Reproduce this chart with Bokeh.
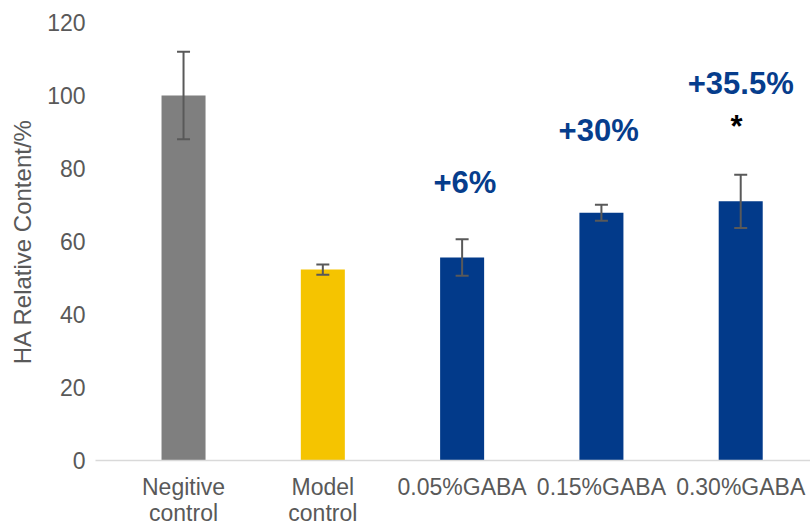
from bokeh.plotting import figure
from bokeh.models import ColumnDataSource, Whisker, FixedTicker, Range1d
from bokeh.core.properties import value
from bokeh.embed import file_html
from bokeh.resources import INLINE

# ---- data ----
categories = ["Negitive\ncontrol", "Model\ncontrol", "0.05%GABA", "0.15%GABA", "0.30%GABA"]
values = [100.0, 52.3, 55.6, 67.9, 71.0]
errors = [12.0, 1.4, 5.0, 2.2, 7.3]
bar_colors = ["#7F7F7F", "#F5C400", "#023A8A", "#023A8A", "#023A8A"]
y_ticks = [0, 20, 40, 60, 80, 100, 120]

ann_labels = ["+6%", "+30%", "+35.5%"]
ann_x = [2.02, 2.98, 4.0]
ann_y = [76.2, 90.5, 103.4]
star_x = [3.97]
star_y = [91.4]

FONT = "Liberation Sans"
TXT = "#595959"

xs = list(range(len(categories)))
src = ColumnDataSource(dict(
    x=xs, top=values, color=bar_colors,
    upper=[v + e for v, e in zip(values, errors)],
    lower=[v - e for v, e in zip(values, errors)],
))

p = figure(width=810, height=528, output_backend="svg", toolbar_location=None,
           x_range=Range1d(-0.632, 4.501), y_range=Range1d(0, 120),
           min_border_left=95, min_border_right=0, min_border_top=22, min_border_bottom=68)
p.outline_line_color = None
p.background_fill_color = "white"
p.border_fill_color = "white"
p.xgrid.grid_line_color = None
p.ygrid.grid_line_color = None

p.vbar(x="x", top="top", bottom=0, width=0.316, color="color", line_color=None, source=src)

w = Whisker(base="x", upper="upper", lower="lower", source=src,
            line_color="#595959", line_width=2, level="overlay")
w.upper_head.size = 13
w.lower_head.size = 13
w.upper_head.line_color = "#595959"
w.lower_head.line_color = "#595959"
w.upper_head.line_width = 2
w.lower_head.line_width = 2
p.add_layout(w)

ann_src = ColumnDataSource(dict(x=ann_x, y=ann_y, t=ann_labels))
p.text(x="x", y="y", text="t", source=ann_src, text_font=value(FONT),
       text_font_style="bold", text_font_size="31px", text_color="#063D8C",
       text_align="center", text_baseline="alphabetic")
star_src = ColumnDataSource(dict(x=star_x, y=star_y, t=["*"]))
p.text(x="x", y="y", text="t", source=star_src, text_font=value(FONT),
       text_font_style="bold", text_font_size="31px", text_color="black",
       text_align="center", text_baseline="alphabetic")

# x axis
p.xaxis.ticker = FixedTicker(ticks=xs)
p.xaxis.major_label_overrides = {i: c for i, c in enumerate(categories)}
p.xaxis.major_label_text_font = FONT
p.xaxis.major_label_text_font_size = "23px"
p.xaxis.major_label_text_color = TXT
p.xaxis.major_label_text_line_height = 1.0
p.xaxis.major_label_standoff = 13
p.xaxis.major_tick_line_color = None
p.xaxis.major_tick_out = 0
p.xaxis.major_tick_in = 0
p.xaxis.minor_tick_line_color = None
p.xaxis.axis_line_color = "#D9D9D9"
p.xaxis.axis_line_width = 1.5

# y axis
p.yaxis.ticker = FixedTicker(ticks=y_ticks)
p.yaxis.major_label_text_font = FONT
p.yaxis.major_label_text_font_size = "23px"
p.yaxis.major_label_text_color = TXT
p.yaxis.major_label_standoff = 10
p.yaxis.major_tick_line_color = None
p.yaxis.major_tick_out = 0
p.yaxis.major_tick_in = 0
p.yaxis.minor_tick_line_color = None
p.yaxis.axis_line_color = None
p.yaxis.axis_label = "HA Relative Content/%"
p.yaxis.axis_label_text_font = FONT
p.yaxis.axis_label_text_font_size = "24px"
p.yaxis.axis_label_text_font_style = "normal"
p.yaxis.axis_label_text_color = TXT
p.yaxis.axis_label_standoff = 8

open("out.html", "w").write(file_html(p, INLINE))
